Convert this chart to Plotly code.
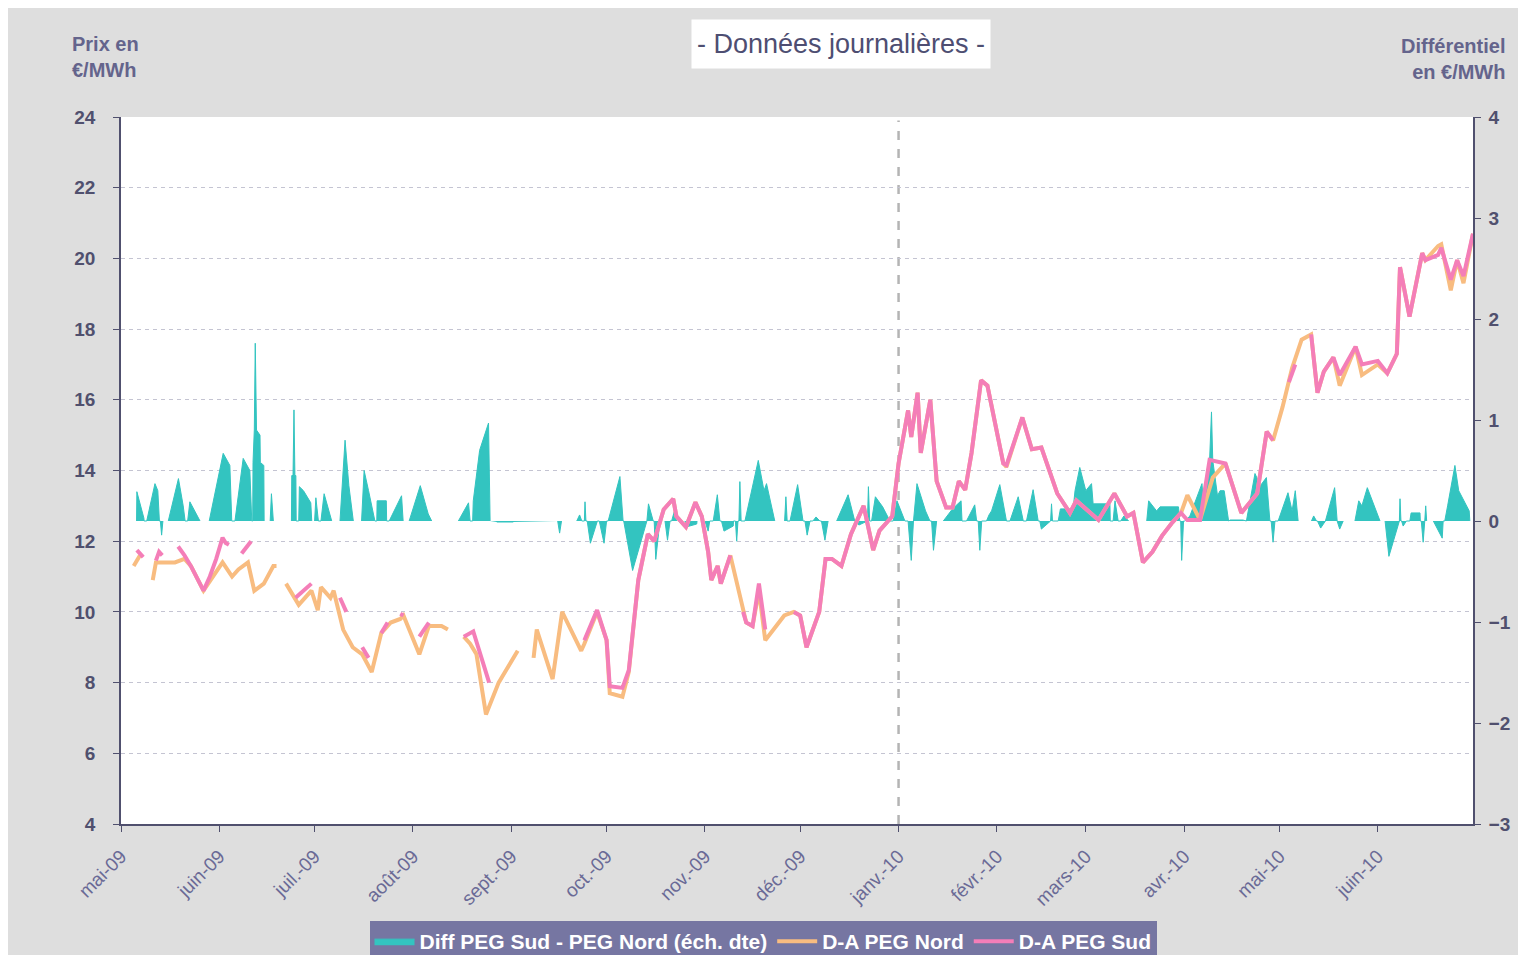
import plotly.graph_objects as go
import pandas as pd

START = pd.Timestamp("2009-05-01")
END = pd.Timestamp("2010-07-01")

# (day offset from 1 May 2009, value in EUR/MWh); None = no quote
nord_points = [
    (4, 11.3), (6, 11.6), (8, None), (10, 10.9), (11, 11.4), (13, 11.4), (17, 11.4), (20, 11.5),
    (22, 11.3), (26, 10.6), (29, 11.0), (32, 11.4), (35, 11.0), (37, 11.2), (40, 11.4), (42, 10.6),
    (45, 10.8), (48, 11.3), (49, 11.3), (50, None), (52, 10.8), (56, 10.2), (60, 10.6), (62, 10.05),
    (63, 10.7), (66, 10.4), (67, 10.6), (70, 9.5), (73, 9.0), (76, 8.8), (79, 8.3), (82, 9.4),
    (85, 9.7), (88, 9.8), (89, 9.9), (92, 9.2), (94, 8.8), (97, 9.6), (101, 9.6), (103, 9.5),
    (105, None), (108, 9.3), (110, 9.1), (112, 8.8), (115, 7.1), (119, 8.0), (125, 8.9), (127, None),
    (130, 8.7), (131, 9.5), (136, 8.1), (139, 10.0), (145, 8.9), (146, 9.1), (150, 10.0), (153, 9.2),
    (154, 7.7), (158, 7.6), (160, 8.3), (163, 10.9), (166, 12.2), (168, 12.0), (171, 12.9), (174, 13.2),
    (175, 12.7), (178, 12.4), (181, 13.1), (183, 12.7), (185, 11.7), (186, 10.9), (188, 11.3), (189, 10.8),
    (192, 11.6), (194, 10.8), (197, 9.7), (199, 9.6), (201, 10.6), (203, 9.2), (209, 9.9), (212, 10.0),
    (214, 9.9), (216, 9.0), (220, 10.0), (222, 11.5), (224, 11.5), (227, 11.3), (230, 12.2), (233, 12.8),
    (234, 13.0), (237, 11.75), (239, 12.3), (242, 12.6), (243, 12.7), (245, 14.2), (248, 15.7), (249, 14.95),
    (251, 16.2), (252, 14.5), (255, 16.0), (257, 13.7), (260, 12.95), (262, 12.95), (264, 13.7), (266, 13.45),
    (268, 14.5), (271, 16.55), (273, 16.4), (278, 14.2), (279, 14.1), (284, 15.5), (287, 14.6), (290, 14.65),
    (295, 13.35), (299, 12.8), (301, 13.15), (308, 12.6), (313, 13.35), (317, 12.7), (319, 12.8), (322, 11.4),
    (325, 11.7), (328, 12.15), (331, 12.5), (334, 12.8), (336, 13.3), (340, 12.6), (344, 13.8), (348, 14.2),
    (353, 12.8), (358, 13.35), (361, 15.1), (363, 14.85), (366, 15.8), (369, 16.9), (372, 17.7), (375, 17.85),
    (377, 16.2), (379, 16.8), (382, 17.2), (384, 16.4), (389, 17.5), (391, 16.7), (396, 17.0), (399, 16.75),
    (402, 17.3), (403, 19.75), (406, 18.35), (410, 20.15), (411, 19.95), (415, 20.35), (416, 20.4), (419, 19.1),
    (421, 19.95), (423, 19.3), (426, 20.7),
]

sud_points = [
    (5, 11.75), (7, 11.55), (8, None), (11, 11.45), (12, 11.7), (13, 11.6), (15, None), (18, 11.85),
    (20, 11.6), (22, 11.3), (26, 10.6), (28, 11.0), (30, 11.5), (32, 12.1), (33, 11.95), (34, 11.9),
    (36, None), (38, 11.65), (41, 12.0), (45, None), (55, 10.4), (60, 10.8), (65, None), (69, 10.4),
    (71, 10.0), (73, None), (76, 9.0), (78, 8.7), (80, None), (82, 9.4), (84, 9.7), (86, None),
    (88, 9.95), (89, 9.9), (91, None), (94, 9.3), (97, 9.7), (100, None), (108, 9.3), (111, 9.45),
    (116, 8.0), (120, None), (146, 9.2), (150, 10.05), (153, 9.2), (154, 7.9), (158, 7.85), (160, 8.35),
    (163, 10.9), (166, 12.2), (168, 12.0), (171, 12.9), (174, 13.2), (175, 12.7), (178, 12.4), (181, 13.1),
    (183, 12.7), (185, 11.7), (186, 10.9), (188, 11.3), (189, 10.8), (192, 11.6), (193, None), (196, 10.0),
    (197, 9.7), (199, 9.6), (201, 10.8), (203, 9.5), (206, None), (212, 10.0), (214, 9.9), (216, 9.0),
    (220, 10.0), (222, 11.5), (224, 11.5), (227, 11.3), (230, 12.2), (233, 12.8), (234, 13.0), (237, 11.75),
    (239, 12.3), (242, 12.6), (243, 12.7), (245, 14.2), (248, 15.7), (249, 14.95), (251, 16.2), (252, 14.5),
    (255, 16.0), (257, 13.7), (260, 12.95), (262, 12.95), (264, 13.7), (266, 13.45), (268, 14.5), (271, 16.55),
    (273, 16.4), (278, 14.2), (279, 14.15), (284, 15.5), (287, 14.6), (290, 14.65), (295, 13.35), (299, 12.8),
    (301, 13.15), (308, 12.6), (313, 13.35), (317, 12.7), (319, 12.8), (322, 11.4), (325, 11.7), (328, 12.15),
    (331, 12.5), (334, 12.8), (336, 12.6), (340, 12.6), (343, 14.3), (348, 14.2), (353, 12.8), (358, 13.35),
    (361, 15.1), (363, 14.85), (364, None), (368, 16.5), (370, 17.0), (371, None), (375, 17.85), (377, 16.2),
    (379, 16.8), (382, 17.2), (384, 16.7), (389, 17.5), (391, 17.0), (396, 17.1), (399, 16.75), (402, 17.3),
    (403, 19.75), (406, 18.35), (410, 20.15), (411, 19.95), (415, 20.1), (416, 20.3), (419, 19.4), (421, 19.95),
    (423, 19.5), (426, 20.7),
]

# Differential Sud - Nord (EUR/MWh, right axis)
diff_points = [
    (4.9, 0), (5.0, 0.29), (7.2, 0.03), (7.3, 0), (8.1, 0), (10.7, 0.37), (11.6, 0.3), (12.1, 0),
    (12.4, 0), (12.8, -0.14), (13.2, 0), (13.5, None),
    (14.9, 0), (18.1, 0.42), (19.6, 0.15), (20.2, 0), (21.0, 0), (21.7, 0.19), (24.9, 0), (26, None),
    (27.8, 0), (32.2, 0.67), (34.3, 0.55), (34.9, 0), (35.9, 0), (38.5, 0.62), (40.6, 0.5), (41.2, 0),
    (41.5, 0), (41.6, 0.58), (42.0, 0.9), (42.3, 1.76), (42.7, 0.9), (43.8, 0.85), (43.9, 0.58), (45.0, 0.55),
    (45.1, 0), (46, None), (47.0, 0), (47.4, 0.27), (48.0, 0), (50, None),
    (53.7, 0), (53.8, 0.45), (54.2, 0.45), (54.5, 1.1), (54.8, 0.45), (55.1, 0.45), (55.2, 0),
    (56.0, 0), (56.2, 0.34), (57.5, 0.3), (59.8, 0.18), (60.1, 0), (60.5, None),
    (61.0, 0), (61.4, 0.23), (62.2, 0), (63.0, 0), (64.0, 0.27), (66.4, 0), (67, None),
    (69.0, 0), (70.6, 0.8), (71.8, 0.35), (73.2, 0), (74, None),
    (75.8, 0), (76.6, 0.5), (78.0, 0.3), (80.0, 0), (80.6, 0), (80.7, 0.2), (83.6, 0.2), (83.7, 0),
    (84.5, 0), (88.4, 0.25), (88.9, 0), (89.5, None),
    (90.8, 0), (94.3, 0.35), (96.8, 0.07), (97.9, 0), (100, None),
    (106.3, 0), (109.5, 0.18), (110.0, 0), (110.8, 0), (111.0, 0.2), (113.0, 0.7), (115.8, 0.97), (116.3, 0),
    (117, None), (118.4, -0.01), (123.6, -0.01), (124, None),
    (137.6, 0), (138.2, -0.12), (138.8, 0), (140, None),
    (143.6, 0), (144.5, 0.06), (145.2, 0), (146.0, 0), (146.2, 0.19), (146.5, 0),
    (146.9, 0), (147.9, -0.22), (150.1, 0), (150.7, 0), (152.2, -0.22), (153.0, 0),
    (153.5, 0), (157.2, 0.44), (158.2, 0), (158.4, 0), (161.2, -0.49), (165.6, 0),
    (165.7, 0), (166.2, 0.17), (167.7, 0), (168.0, 0), (168.5, -0.38), (169.8, 0), (170.5, None),
    (171.4, 0), (172.2, -0.19), (173.0, 0), (173.5, 0), (174.3, 0.09), (175.1, 0), (176, None),
    (177.7, 0), (178.0, -0.06), (181.4, -0.03), (181.5, 0), (182, None),
    (184.0, 0), (185.0, -0.1), (185.5, 0), (186.6, 0), (187.9, 0.26), (188.7, 0),
    (189.2, 0), (190.0, -0.1), (192.9, -0.05), (193.0, 0), (193.6, 0), (194.0, -0.2), (194.4, 0),
    (194.7, 0), (195.0, 0.39), (195.4, 0), (196.6, 0), (200.8, 0.6), (202.6, 0.3), (203.4, 0.37), (206.0, 0),
    (207, None), (209.1, 0), (209.5, 0.24), (209.9, 0), (210.8, 0), (213.2, 0.36), (214.9, 0),
    (215.5, 0), (216.2, -0.14), (217.1, 0), (218.0, 0), (219.0, 0.04), (220.2, 0),
    (220.7, 0), (221.8, -0.19), (222.8, 0), (224, None),
    (225.5, 0), (229.1, 0.26), (231.2, 0), (231.8, 0), (232.5, -0.04), (234.9, 0),
    (235.2, 0), (235.5, 0.34), (235.9, 0), (236.5, 0), (237.7, 0.24), (240.0, 0.14), (242.3, 0),
    (243.3, 0), (244.5, 0.2), (247.0, 0), (248.0, 0), (249.0, -0.39), (249.6, 0),
    (249.7, 0), (250.8, 0.37), (253.5, 0.1), (254.9, 0), (255.4, 0), (256.0, -0.29), (257.0, 0), (258, None),
    (259.1, 0), (262.0, 0.12), (264.7, 0.2), (265.0, 0), (266.4, 0), (269.0, 0.16), (269.6, 0),
    (270.1, 0), (270.6, -0.29), (271.2, 0), (272.7, 0), (273.5, 0.06), (274.3, 0.1), (276.9, 0.36), (279.0, 0),
    (280.1, 0), (282.7, 0.24), (284.3, 0), (285.3, 0), (287.4, 0.31), (289.0, 0),
    (289.5, 0), (290.0, -0.08), (292.7, 0), (292.9, 0), (293.2, 0.17), (293.5, 0),
    (295.3, 0), (296.0, 0.12), (300.0, 0.12), (300.6, 0.3), (302.1, 0.53), (304.0, 0.3), (305.8, 0.37),
    (306.3, 0.17), (311.6, 0.17), (311.7, 0), (312.6, 0), (313.2, 0.2), (314.2, 0),
    (315.0, 0), (316.0, 0.05), (317.5, 0), (319, None),
    (323.2, 0), (323.8, 0.2), (326.3, 0.1), (327.4, 0.14), (333.2, 0.14), (333.6, 0),
    (333.9, 0), (334.2, -0.39), (334.8, 0), (335.2, 0), (336.8, 0.05), (340.6, 0.37), (341.0, 0.2),
    (343.0, 0.6), (343.6, 1.08), (344.0, 0.6), (345.5, 0.25), (346.3, 0.3), (347.6, 0.3), (349.0, 0),
    (349.5, 0.01), (353.5, 0.01), (354.6, 0), (357.3, 0.47), (359.0, 0.35), (360.9, 0.43), (362.0, 0),
    (362.4, 0), (363.0, -0.21), (363.6, 0), (364.6, 0), (367.7, 0.28), (369.0, 0.1), (370.0, 0.3), (370.9, 0),
    (372, None), (375.1, 0), (375.8, 0.05), (376.7, 0), (377.0, 0), (378.0, -0.07), (379.3, 0),
    (379.5, 0), (382.4, 0.33), (383.0, 0), (383.2, 0), (384.0, -0.08), (385.1, 0), (386, None),
    (388.8, 0), (390.0, 0.2), (391.0, 0.15), (392.7, 0.33), (396.7, 0), (397.5, None),
    (398.3, 0), (399.5, -0.35), (402.8, 0), (402.8, 0), (403.0, 0.22), (403.3, 0),
    (403.5, 0), (404.0, -0.05), (405.0, 0), (406.1, 0), (406.5, 0.08), (409.3, 0.08), (409.4, 0),
    (409.7, 0), (410.3, -0.21), (410.8, 0), (410.8, 0), (411.1, 0.15), (411.4, 0), (412, None),
    (413.5, 0), (416.3, -0.17), (416.6, 0), (417.1, 0), (418.0, 0.15), (420.3, 0.55), (421.5, 0.3),
    (424.8, 0.1), (425.0, 0),
]

month_ticks = ["2009-05-01", "2009-06-01", "2009-07-01", "2009-08-01", "2009-09-01", "2009-10-01",
               "2009-11-01", "2009-12-01", "2010-01-01", "2010-02-01", "2010-03-01", "2010-04-01",
               "2010-05-01", "2010-06-01"]
month_labels = ["mai-09", "juin-09", "juil.-09", "août-09", "sept.-09", "oct.-09", "nov.-09",
                "déc.-09", "janv.-10", "févr.-10", "mars-10", "avr.-10", "mai-10", "juin-10"]

series_names = ["Diff PEG Sud - PEG Nord (éch. dte)", "D-A PEG Nord", "D-A PEG Sud"]

TEAL = "#33C4C0"
ORANGE = "#F8BC80"
PINK = "#F47EB8"
AXIS = "#50506E"
FONT = "Liberation Sans, Arial, sans-serif"


def to_xy(points):
    xs = [START + pd.Timedelta(days=d) for d, _ in points]
    ys = [v for _, v in points]
    return xs, ys


fig = go.Figure()
dx, dy = to_xy(diff_points)
fig.add_trace(go.Scatter(x=dx, y=dy, name=series_names[0], yaxis="y", mode="lines",
                         fill="tozeroy", fillcolor=TEAL, line=dict(color=TEAL, width=1),
                         connectgaps=False))
nx, ny = to_xy(nord_points)
fig.add_trace(go.Scatter(x=nx, y=ny, name=series_names[1], yaxis="y2", mode="lines",
                         line=dict(color=ORANGE, width=4), connectgaps=False))
sx, sy = to_xy(sud_points)
fig.add_trace(go.Scatter(x=sx, y=sy, name=series_names[2], yaxis="y2", mode="lines",
                         line=dict(color=PINK, width=4), connectgaps=False))

# page body adds an 8 px offset; figure fills the rest of the 1526x955 window
OFF = 8
W, H = 1526 - OFF, 955 - OFF
L, R, T, B = 113, 53, 109, 131
pw, ph = W - L - R, H - T - B


def px_x(sx_):
    return (sx_ - OFF - L) / pw


def px_y(sy_):
    return (H - B - (sy_ - OFF)) / ph


tickfont_y = dict(family=FONT, size=19, color=AXIS, weight="bold")

fig.update_layout(
    width=W, height=H,
    margin=dict(l=L, r=R, t=T, b=B),
    paper_bgcolor="#DEDEDE",
    plot_bgcolor="white",
    showlegend=True,
    xaxis=dict(type="date", range=[START, END], tickvals=month_ticks, ticktext=month_labels,
               tickangle=-45, ticks="outside", ticklen=6, tickcolor=AXIS, showline=True,
               linecolor=AXIS, linewidth=1.5, showgrid=False, zeroline=False, automargin=False,
               ticklabelstandoff=6,
               tickfont=dict(family=FONT, size=19, color="#6A6A96")),
    yaxis=dict(side="right", range=[-3, 4], dtick=1, showgrid=False, zeroline=False,
               showline=True, linecolor=AXIS, linewidth=1.5, ticks="outside", ticklen=6,
               tickcolor=AXIS, tickfont=tickfont_y, ticklabelstandoff=4, automargin=False),
    yaxis2=dict(side="left", overlaying="y", range=[4, 24], dtick=2, showgrid=True,
                gridcolor="#C4C4D2", gridwidth=1, griddash="4px,4px", zeroline=False,
                showline=True, linecolor=AXIS, linewidth=1.5, ticks="outside", ticklen=6,
                tickcolor=AXIS, tickfont=tickfont_y, ticklabelstandoff=14, automargin=False),
    legend=dict(orientation="h", xref="container", yref="container",
                x=(763 - OFF) / W, xanchor="center", y=1 - (921 - OFF) / H, yanchor="top",
                bgcolor="#7676A2", font=dict(family=FONT, size=21, color="white", weight="bold"),
                itemwidth=40, traceorder="normal"),
    shapes=[
        dict(type="line", xref="x", yref="paper", x0="2010-01-01", x1="2010-01-01", y0=0, y1=0.995,
             line=dict(color="#B4B4B4", width=2.5, dash="dash"), layer="below"),
    ],
    annotations=[
        dict(text="- Données journalières -", xref="paper", yref="paper", x=px_x(841), y=px_y(44),
             xanchor="center", yanchor="middle", showarrow=False, bgcolor="white",
             width=296, height=46,
             font=dict(family=FONT, size=27, color="#4E4E72")),
        dict(text="Prix en<br>€/MWh", xref="paper", yref="paper", x=px_x(70), y=px_y(31),
             xanchor="left", yanchor="top", align="left", showarrow=False,
             font=dict(family=FONT, size=20, color="#64648C", weight="bold")),
        dict(text="Différentiel<br>en €/MWh", xref="paper", yref="paper", x=px_x(1507), y=px_y(33),
             xanchor="right", yanchor="top", align="right", showarrow=False,
             font=dict(family=FONT, size=20, color="#64648C", weight="bold")),
    ],
)

fig.write_html("out.html")
